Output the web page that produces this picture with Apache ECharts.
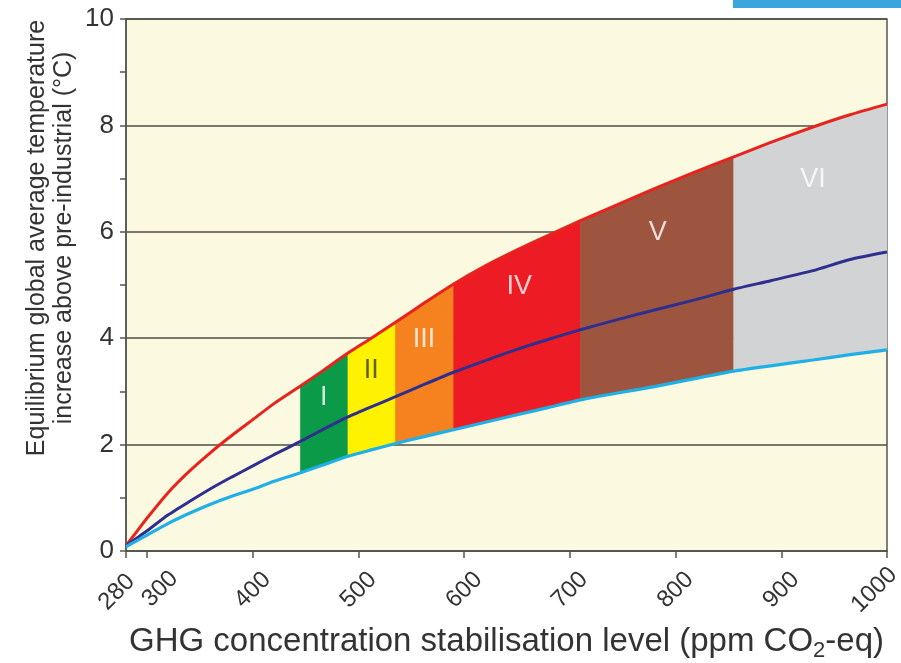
<!DOCTYPE html>
<html>
<head>
<meta charset="utf-8">
<script src="https://cdn.jsdelivr.net/npm/echarts@6/dist/echarts.min.js"></script>
<style>
  html, body { margin: 0; padding: 0; background: #fff; }
  #chart { width: 901px; height: 663px; }
</style>
</head>
<body>
<div id="chart"></div>
<script>
// CO2-eq stabilisation level (ppm) and equilibrium warming (°C)
const ppm    = [280, 290, 300, 320, 340, 360, 380, 400, 420, 445, 467, 490, 512, 535,
                562, 590, 620, 650, 680, 710, 745, 780, 818, 855, 890, 930, 965, 1000];
// upper end of the likely range (red)
const upperT = [0.1, 0.36, 0.62, 1.1, 1.5, 1.85, 2.17, 2.47, 2.77, 3.1, 3.4, 3.72, 4.0, 4.3,
                4.66, 5.02, 5.36, 5.66, 5.94, 6.21, 6.51, 6.81, 7.12, 7.41, 7.68, 7.97, 8.2, 8.4];
// best estimate (dark blue)
const bestT  = [0.1, 0.24, 0.38, 0.68, 0.93, 1.17, 1.39, 1.6, 1.81, 2.06, 2.29, 2.52, 2.71, 2.9,
                3.13, 3.36, 3.58, 3.79, 3.98, 4.16, 4.35, 4.53, 4.72, 4.92, 5.08, 5.27, 5.48, 5.62];
// lower end of the likely range (light blue)
const lowerT = [0.08, 0.19, 0.3, 0.52, 0.71, 0.88, 1.03, 1.16, 1.31, 1.47, 1.62, 1.78, 1.9, 2.02,
                2.15, 2.28, 2.42, 2.56, 2.7, 2.84, 2.97, 3.09, 3.24, 3.38, 3.48, 3.59, 3.69, 3.78];

const xTicks = [280, 300, 400, 500, 600, 700, 800, 900, 1000];

// stabilisation categories
const categoryNames  = ['I', 'II', 'III', 'IV', 'V', 'VI'];
const categoryEdges  = [445, 490, 535, 590, 710, 855, 1000];
const categoryColors = ['#0b9b48', '#fff200', '#f5821f', '#ed1c24', '#9d553f', '#d1d3d4'];
const labelX = [467, 512, 562, 652, 783, 930];
const labelY = [2.88, 3.4, 3.97, 4.97, 5.98, 6.99];
const labelColors = ['#ffffff', '#3a3a3a', '#ffffff', '#ffffff', '#ffffff', '#ffffff'];

const chart = echarts.init(document.getElementById('chart'));

const pairs = (ys) => ppm.map((x, i) => [x, ys[i]]);
const SMOOTH = 0.2;

// a few tick labels are nudged like in the original figure
const tickLabel = (v) => {
  if (v === 280) return '{a|280}';
  if (v === 300) return '{b|300}';
  if (v === 1000) return '{c|1000}';
  return String(v);
};

const option = {
  animation: false,
  textStyle: { fontFamily: 'Liberation Sans, Arial, sans-serif' },
  grid: {
    left: 126, right: 14, top: 19, bottom: 112,
    outerBoundsMode: 'none',
    containLabel: false,
    show: true,
    backgroundColor: '#fcf9e1',
    borderColor: '#555550',
    borderWidth: 1.5
  },
  xAxis: {
    type: 'value',
    min: 280,
    max: 1000,
    axisLine: { lineStyle: { color: '#555550', width: 1.5 } },
    axisTick: { customValues: xTicks, length: 7, lineStyle: { color: '#555550', width: 1.5 } },
    axisLabel: {
      customValues: xTicks,
      rotate: 45,
      align: 'center',
      verticalAlign: 'middle',
      margin: 39,
      fontSize: 24,
      color: '#333',
      formatter: tickLabel,
      rich: {
        a: { fontSize: 24, color: '#333', padding: [0, 16, 10, 0] },
        b: { fontSize: 24, color: '#333', padding: [17, 0, 0, 20] },
        c: { fontSize: 24, color: '#333', padding: [0, 18, 18, 0] }
      }
    },
    splitLine: { show: false },
    name: 'GHG concentration stabilisation level (ppm CO{sub|2}-eq)',
    nameLocation: 'middle',
    nameGap: 71,
    nameTextStyle: {
      fontSize: 33,
      color: '#333',
      rich: { sub: { fontSize: 22, padding: [18, 0, 0, 0], color: '#333' } }
    }
  },
  yAxis: {
    type: 'value',
    min: 0,
    max: 10,
    interval: 2,
    axisLine: { show: true, lineStyle: { color: '#555550', width: 1.5 } },
    axisTick: { show: true, length: 6, lineStyle: { color: '#555550', width: 1.5 } },
    minorTick: { show: true, splitNumber: 2, length: 6, lineStyle: { color: '#555550', width: 1.5 } },
    axisLabel: { margin: 12, fontSize: 26, color: '#333' },
    splitLine: { show: true, lineStyle: { color: '#4d4d45', width: 1.5 } }
  },
  graphic: [
    {
      type: 'text',
      x: 24, y: 238,
      rotation: Math.PI / 2,
      style: {
        text: 'Equilibrium global average temperature\nincrease above pre-industrial (°C)',
        fill: '#333',
        font: '25px "Liberation Sans", Arial, sans-serif',
        textAlign: 'center',
        lineHeight: 27
      }
    },
    {
      type: 'rect',
      shape: { x: 733, y: 0, width: 168, height: 8 },
      style: { fill: '#3aa6dd' }
    }
  ],
  series: [
    {
      name: 'categories',
      type: 'custom',
      silent: true,
      z: 2,
      encode: { x: [0, 1] },
      data: categoryNames.map((n, i) => [categoryEdges[i], categoryEdges[i + 1]]),
      renderItem: (params, api) => {
        const i = params.dataIndex;
        const a = categoryEdges[i];
        const b = categoryEdges[i + 1];
        const top = [];
        const bottom = [];
        ppm.forEach((x, k) => {
          if (x >= a && x <= b) {
            top.push(api.coord([x, upperT[k]]));
            bottom.unshift(api.coord([x, lowerT[k]]));
          }
        });
        return {
          type: 'polygon',
          shape: { points: top.concat(bottom) },
          style: { fill: categoryColors[i], stroke: categoryColors[i], lineWidth: 0.6 }
        };
      }
    },
    {
      name: 'upper',
      type: 'line',
      data: pairs(upperT),
      smooth: SMOOTH,
      symbol: 'none',
      lineStyle: { color: '#e8231d', width: 3 },
      z: 4
    },
    {
      name: 'best',
      type: 'line',
      data: pairs(bestT),
      smooth: SMOOTH,
      symbol: 'none',
      lineStyle: { color: '#2e2f8f', width: 3 },
      z: 4
    },
    {
      name: 'lower',
      type: 'line',
      data: pairs(lowerT),
      smooth: SMOOTH,
      symbol: 'none',
      lineStyle: { color: '#1fb0e6', width: 3.2 },
      z: 4
    },
    {
      name: 'labels',
      type: 'scatter',
      symbolSize: 0,
      silent: true,
      z: 5,
      data: labelX.map((x, i) => ({
        value: [x, labelY[i]],
        label: { color: labelColors[i] }
      })),
      label: {
        show: true,
        position: 'inside',
        fontSize: 27,
        formatter: (p) => categoryNames[p.dataIndex]
      }
    }
  ]
};

chart.setOption(option);
</script>
</body>
</html>
